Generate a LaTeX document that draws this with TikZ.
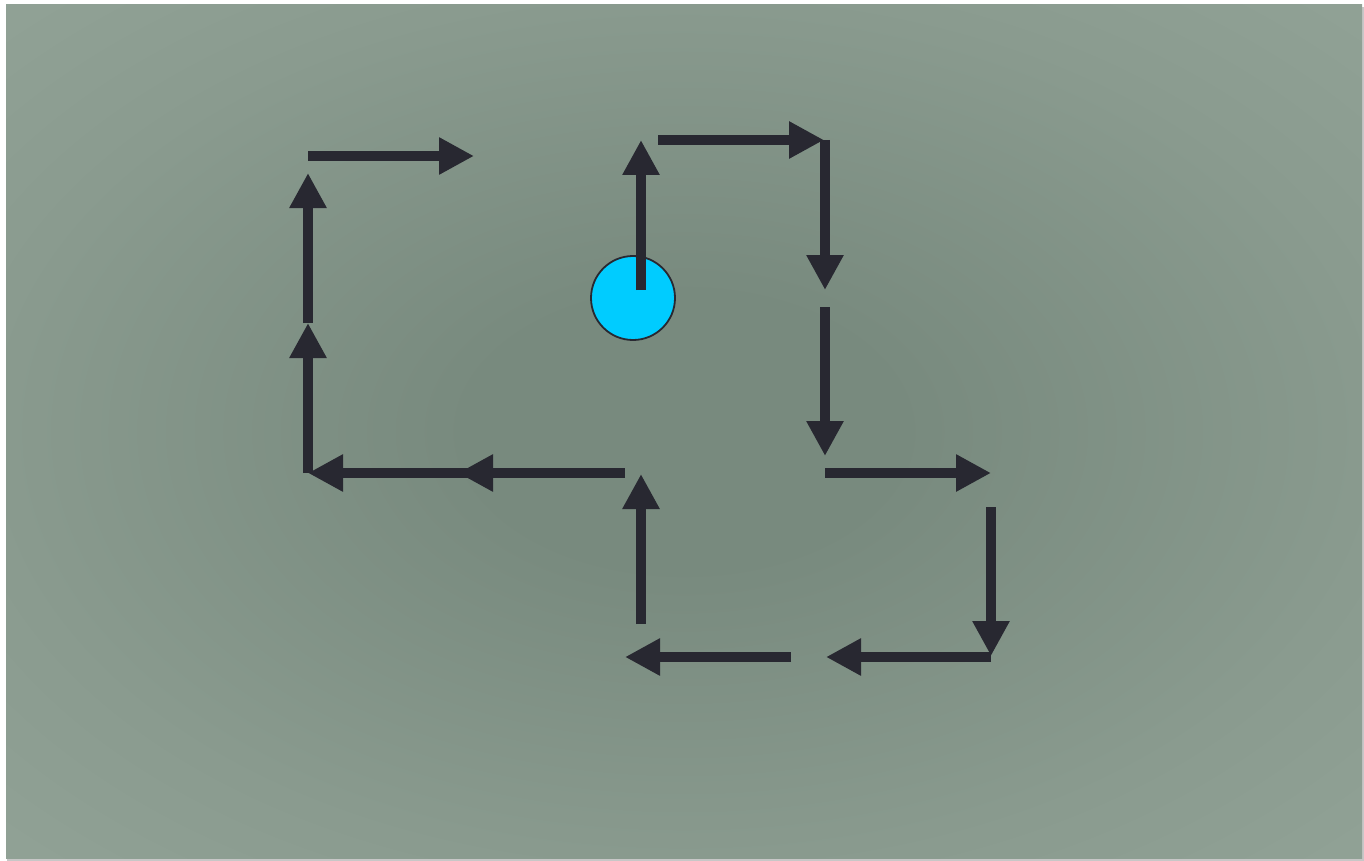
\documentclass[tikz,border=0pt]{standalone}
\usetikzlibrary{arrows.meta}
\definecolor{bgout}{HTML}{91A296}
\definecolor{bgmid}{HTML}{8A9B8F}
\definecolor{bgin}{HTML}{788A7E}
\definecolor{ink}{HTML}{282831}
\definecolor{ball}{HTML}{00CCFF}
\pgfdeclareradialshading{bgglow}{\pgfpoint{0bp}{0bp}}{color(0bp)=(bgin); color(8bp)=(bgin); color(26bp)=(bgmid); color(36bp)=(bgout); color(50bp)=(bgout)}
\begin{document}
\begin{tikzpicture}[x=1pt,y=-1pt,
  seg/.style={draw=ink,line width=10.5pt},
  arr/.style={seg,-{Triangle[length=35pt,width=35pt]}}]
\useasboundingbox (0,0) rectangle (1364,861);
\fill[white] (0,0) rectangle (1364,861);
\fill[black!22] (7,7) rectangle (1364,861);
\shade[shading=bgglow] (6,5) rectangle (1362,858);
% ball
\node[circle,minimum size=84pt,inner sep=0pt,fill=ball,draw=ink,line width=1.8pt] (ball) at (633,298) {};
% coordinates
\coordinate (a0) at (641,290); \coordinate (a1) at (641,140);
\coordinate (b0) at (658,140); \coordinate (b1) at (824,140);
\coordinate (c0) at (825,140); \coordinate (c1) at (825,290);
\coordinate (d0) at (825,307); \coordinate (d1) at (825,456);
\coordinate (e0) at (825,473); \coordinate (e1) at (991,473);
\coordinate (f0) at (991,507); \coordinate (f1) at (991,656);
\coordinate (g0) at (991,657); \coordinate (g1) at (826,657);
\coordinate (h0) at (791,657); \coordinate (h1) at (625,657);
\coordinate (i0) at (641,624); \coordinate (i1) at (641,474);
\coordinate (j0) at (625,473); \coordinate (j1) at (458,473);
\coordinate (k0) at (468,473); \coordinate (k1) at (308,473);
\coordinate (l0) at (308,473); \coordinate (l1) at (308,323);
\coordinate (m0) at (308,323); \coordinate (m1) at (308,173);
\coordinate (n0) at (308,156); \coordinate (n1) at (474,156);
% arrows
\foreach \s in {a,b,c,d,e,f,g,h,i,j,k,l,m,n}
  \draw[arr] (\s0) -- (\s1);
\end{tikzpicture}
\end{document}
